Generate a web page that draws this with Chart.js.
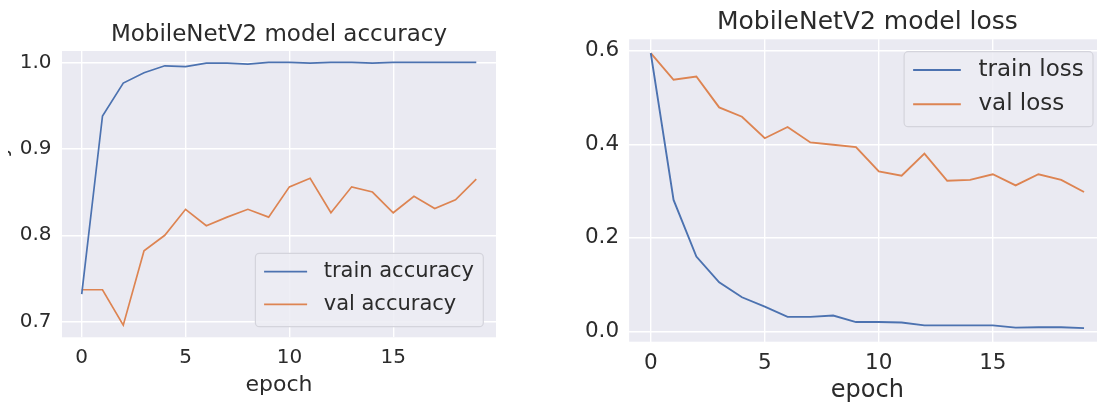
<!DOCTYPE html>
<html>
<head>
<meta charset="utf-8">
<script src="https://cdn.jsdelivr.net/npm/chart.js@4/dist/chart.umd.min.js"></script>
<style>
  html, body { margin: 0; padding: 0; background: #fff; overflow: hidden; width: 1097px; height: 408px; }
  #accWrap { position: absolute; left: 8px; top: 0; width: 540px; height: 408px; overflow: hidden; }
  #accCanvas { position: absolute; left: -48px; top: 0; }
  #lossCanvas { position: absolute; left: 550px; top: 0; }
</style>
</head>
<body>
<div id="accWrap"><canvas id="accCanvas" width="588" height="408"></canvas></div>
<canvas id="lossCanvas" width="560" height="408"></canvas>
<script>
// Training history of the MobileNetV2 run (one value per epoch)
const epochs    = [0, 1, 2, 3, 4, 5, 6, 7, 8, 9, 10, 11, 12, 13, 14, 15, 16, 17, 18, 19];
const trainAcc  = [0.732, 0.938, 0.976, 0.988, 0.996, 0.995, 0.999, 0.999, 0.998, 1.000,
                   1.000, 0.999, 1.000, 1.000, 0.999, 1.000, 1.000, 1.000, 1.000, 1.000];
const valAcc    = [0.737, 0.737, 0.696, 0.782, 0.800, 0.830, 0.811, 0.821, 0.830, 0.821,
                   0.856, 0.866, 0.826, 0.856, 0.850, 0.826, 0.845, 0.831, 0.841, 0.865];
const trainLoss = [0.595, 0.281, 0.160, 0.105, 0.073, 0.053, 0.031, 0.031, 0.034, 0.020,
                   0.020, 0.019, 0.013, 0.013, 0.013, 0.013, 0.008, 0.009, 0.009, 0.007];
const valLoss   = [0.595, 0.538, 0.545, 0.479, 0.459, 0.413, 0.437, 0.404, 0.399, 0.394,
                   0.342, 0.333, 0.380, 0.322, 0.324, 0.336, 0.312, 0.336, 0.324, 0.298];

const accTicks  = [0.7, 0.8, 0.9, 1.0];
const lossTicks = [0.0, 0.2, 0.4, 0.6];
const epochTicks = [0, 5, 10, 15];

const FONT = "'DejaVu Sans', sans-serif";
const TEXT = '#2b2b2b';
const BLUE = '#4C72B0';
const ORANGE = '#DD8452';
const PLOT_BG = '#EAEAF2';

Chart.defaults.font.family = FONT;
Chart.defaults.color = TEXT;

// shaded plotting area behind the grid
const plotBg = {
  id: 'plotBg',
  beforeDraw(chart) {
    const { ctx, chartArea: a } = chart;
    ctx.save();
    ctx.fillStyle = PLOT_BG;
    ctx.fillRect(a.left, a.top, a.right - a.left, a.bottom - a.top);
    ctx.restore();
  }
};

// framed legend placed inside the plotting area
const boxLegend = {
  id: 'boxLegend',
  afterDatasetsDraw(chart, args, o) {
    const ctx = chart.ctx, a = chart.chartArea;
    const items = chart.data.datasets;
    ctx.save();
    ctx.font = o.fontSize + 'px ' + FONT;
    const textW = Math.max(...items.map(d => ctx.measureText(d.label).width));
    const w = o.padL + o.lineLen + o.gap + textW + o.padR;
    const h = o.height;
    const x = a.right - o.inset - w;
    const y = o.anchor === 'top' ? a.top + o.offsetY : a.bottom - o.offsetY - h;
    ctx.beginPath();
    ctx.roundRect(x, y, w, h, 4);
    ctx.fillStyle = 'rgba(236,236,243,0.85)';
    ctx.fill();
    ctx.lineWidth = 1.2;
    ctx.strokeStyle = '#d4d4dc';
    ctx.stroke();
    items.forEach((d, i) => {
      const ry = y + o.firstRow + i * o.rowGap;
      ctx.beginPath();
      ctx.moveTo(x + o.padL, ry);
      ctx.lineTo(x + o.padL + o.lineLen, ry);
      ctx.strokeStyle = d.borderColor;
      ctx.lineWidth = d.borderWidth;
      ctx.stroke();
      ctx.fillStyle = TEXT;
      ctx.textAlign = 'left';
      ctx.textBaseline = 'middle';
      ctx.fillText(d.label, x + o.padL + o.lineLen + o.gap, ry);
    });
    ctx.restore();
  }
};

const series = (ys) => epochs.map((e, i) => ({ x: e, y: ys[i] }));

function lineSet(label, ys, color, width) {
  return { label, data: series(ys), borderColor: color, backgroundColor: color,
           borderWidth: width, pointRadius: 0, tension: 0, fill: false };
}

function buildChart(canvasId, cfg) {
  const gridOpts = { color: '#ffffff', lineWidth: 1.4, drawTicks: false };
  return new Chart(document.getElementById(canvasId), {
    type: 'line',
    data: { datasets: cfg.datasets },
    plugins: [plotBg, boxLegend],
    options: {
      responsive: false,
      animation: false,
      layout: { padding: { left: 0, right: cfg.padRight, top: 0, bottom: 0 } },
      plugins: {
        legend: { display: false },
        tooltip: { enabled: false },
        title: {
          display: true, text: cfg.title, fullSize: false, color: TEXT,
          font: { size: cfg.titleSize, weight: 'normal' },
          padding: cfg.titlePad
        },
        boxLegend: cfg.legend
      },
      scales: {
        x: {
          type: 'linear', min: cfg.xMin, max: cfg.xMax,
          afterBuildTicks: s => { s.ticks = epochTicks.map(v => ({ value: v })); },
          ticks: { padding: cfg.xTickPad, maxRotation: 0, autoSkip: false,
                   font: { size: cfg.tickSize }, callback: v => String(v) },
          grid: gridOpts,
          border: { display: false },
          title: { display: true, text: 'epoch', font: { size: cfg.xTitleSize },
                   padding: { top: 0, bottom: cfg.xTitlePad } },
          afterFit: s => { s.height = cfg.xHeight; }
        },
        y: {
          type: 'linear', min: cfg.yMin, max: cfg.yMax,
          afterBuildTicks: s => { s.ticks = cfg.yTicks.map(v => ({ value: v })); },
          ticks: { padding: cfg.yTickPad, autoSkip: false,
                   font: { size: cfg.tickSize }, callback: v => Number(v).toFixed(1) },
          grid: gridOpts,
          border: { display: false },
          title: { display: !!cfg.yTitle, text: cfg.yTitle || '', font: { size: 22 },
                   padding: { top: cfg.yTitlePad || 0, bottom: 0 } },
          afterFit: s => { s.width = cfg.yWidth; }
        }
      }
    }
  });
}

buildChart('accCanvas', {
  title: 'MobileNetV2 model accuracy', titleSize: 23, titlePad: { top: 21.4, bottom: 2.0 },
  datasets: [lineSet('train accuracy', trainAcc, BLUE, 1.7),
             lineSet('val accuracy', valAcc, ORANGE, 1.7)],
  padRight: 52,
  xMin: -0.95, xMax: 19.95, xTickPad: 8.5, xTitleSize: 22, xTitlePad: 9.2, xHeight: 70.7,
  yMin: 0.682, yMax: 1.0131, yTicks: accTicks, yTickPad: 10.5, yWidth: 102,
  yTitle: 'accuracy', yTitlePad: 28.5,
  tickSize: 20,
  legend: { fontSize: 21, padL: 8.7, lineLen: 43, gap: 16.6, padR: 9.3, height: 73.4,
            firstRow: 18.4, rowGap: 32.6, inset: 12.7, anchor: 'bottom', offsetY: 10.6 }
});

buildChart('lossCanvas', {
  title: 'MobileNetV2 model loss', titleSize: 25, titlePad: { top: 7.95, bottom: 1.35 },
  datasets: [lineSet('train loss', trainLoss, BLUE, 1.9),
             lineSet('val loss', valLoss, ORANGE, 1.9)],
  padRight: 4.3,
  xMin: -0.95, xMax: 19.95, xTickPad: 8.4, xTitleSize: 24, xTitlePad: 2.7, xHeight: 66.3,
  yMin: -0.022, yMax: 0.6245, yTicks: lossTicks, yTickPad: 10, yWidth: 79.1,
  tickSize: 21.5,
  legend: { fontSize: 23, padL: 9, lineLen: 47.7, gap: 17.6, padR: 9.3, height: 75,
            firstRow: 18.3, rowGap: 34.3, inset: 12.7, anchor: 'top', offsetY: 12.4 }
});
</script>
</body>
</html>
